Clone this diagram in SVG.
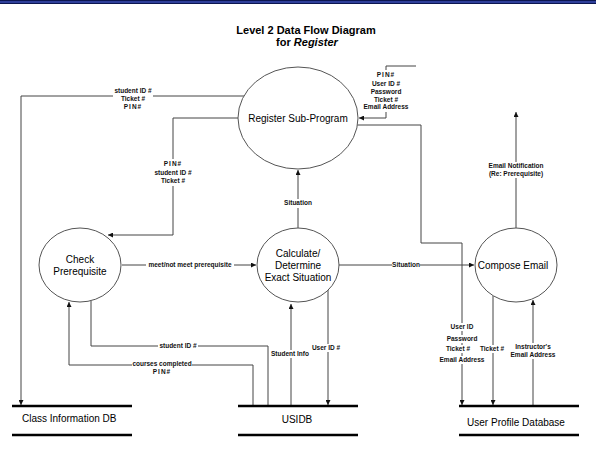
<svg xmlns="http://www.w3.org/2000/svg" width="596" height="452" viewBox="0 0 596 452">
<defs>
<style>
.node{fill:#fff;stroke:#555;stroke-width:1}
.nt{font-family:"Liberation Sans",Arial,sans-serif;font-size:10px;fill:#000;text-anchor:middle}
.st{font-family:"Liberation Sans",Arial,sans-serif;font-size:10px;fill:#000}
.store{stroke:#000;stroke-width:2.5}
.c{fill:none;stroke:#444;stroke-width:1}
.lb{font-family:"Liberation Sans",Arial,sans-serif;font-size:6.5px;font-weight:bold;fill:#111;text-anchor:middle}
.bg{fill:#fff}
.sp{letter-spacing:1px}
.title{font-family:"Liberation Sans",Arial,sans-serif;font-size:11px;font-weight:bold;fill:#000;text-anchor:middle}
</style>
<marker id="ah" viewBox="0 0 6 6" refX="6" refY="3" markerWidth="5" markerHeight="5" markerUnits="userSpaceOnUse" orient="auto">
<path d="M0,0 L6,3 L0,6 Z" fill="#111"/>
</marker>
</defs>
<rect x="0" y="0" width="596" height="452" fill="#fff"/>
<rect x="0" y="0" width="596" height="4" fill="#2e3f9a"/>
<line x1="0" y1="0.5" x2="596" y2="0.5" stroke="#0b1650" stroke-width="1"/>
<line x1="0" y1="3.5" x2="596" y2="3.5" stroke="#0b1650" stroke-width="1"/>
<text class="title" x="306" y="34">Level 2 Data Flow Diagram</text>
<text class="title" x="307" y="46">for <tspan font-style="italic">Register</tspan></text>

<g id="connectors">
<path class="c" d="M244,96 H21 V405" marker-end="url(#ah)"/>
<path class="c" d="M238,118 H173 V235 H108" marker-end="url(#ah)"/>
<path class="c" d="M298,228 V170" marker-end="url(#ah)"/>
<path class="c" d="M122,265 H256" marker-end="url(#ah)"/>
<path class="c" d="M338,265 H474" marker-end="url(#ah)"/>
<path class="c" d="M416,66 H386 V118 H359" marker-end="url(#ah)"/>
<path class="c" d="M357,125 H421 V243 H462 V405" marker-end="url(#ah)"/>
<path class="c" d="M493,296 V405" marker-end="url(#ah)"/>
<path class="c" d="M533,406 V300" marker-end="url(#ah)"/>
<path class="c" d="M516,228 V112" marker-end="url(#ah)"/>
<path class="c" d="M91,301 V346 H268 V406"/>
<path class="c" d="M253,406 V365 H69 V302" marker-end="url(#ah)"/>
<path class="c" d="M291,406 V304" marker-end="url(#ah)"/>
<path class="c" d="M328,290 V405" marker-end="url(#ah)"/>

<rect class="bg" x="113" y="86" width="40" height="25"/>
<text class="lb" x="133" y="93">student ID #</text>
<text class="lb" x="133" y="101">Ticket #</text>
<text class="lb sp" x="133" y="109">PIN#</text>

<rect class="bg" x="153" y="159" width="40" height="27"/>
<text class="lb sp" x="173" y="166">PIN#</text>
<text class="lb" x="173" y="175">student ID #</text>
<text class="lb" x="173" y="183">Ticket #</text>

<rect class="bg" x="284" y="199" width="28" height="9"/>
<text class="lb" x="298" y="205">Situation</text>

<rect class="bg" x="146" y="261" width="88" height="8"/>
<text class="lb" x="190" y="267">meet/not meet prerequisite</text>

<rect class="bg" x="392" y="261" width="28" height="8"/>
<text class="lb" x="406" y="267">Situation</text>

<rect class="bg" x="362" y="70" width="48" height="42"/>
<text class="lb sp" x="386" y="77">PIN#</text>
<text class="lb" x="386" y="86">User ID #</text>
<text class="lb" x="386" y="94">Password</text>
<text class="lb" x="386" y="102">Ticket #</text>
<text class="lb" x="386" y="109">Email Address</text>

<rect class="bg" x="450" y="323" width="24" height="8"/>
<text class="lb" x="462" y="329">User ID</text>
<rect class="bg" x="447" y="335" width="30" height="8"/>
<text class="lb" x="462" y="341">Password</text>
<rect class="bg" x="445" y="345" width="27" height="8"/>
<text class="lb" x="458" y="351">Ticket #</text>
<rect class="bg" x="439" y="356" width="46" height="8"/>
<text class="lb" x="462" y="362">Email Address</text>

<rect class="bg" x="480" y="345" width="25" height="8"/>
<text class="lb" x="492" y="351">Ticket #</text>

<rect class="bg" x="510" y="343" width="46" height="16"/>
<text class="lb" x="533" y="349">Instructor's</text>
<text class="lb" x="533" y="357">Email Address</text>

<rect class="bg" x="489" y="162" width="54" height="16"/>
<text class="lb" x="516" y="168">Email Notification</text>
<text class="lb" x="516" y="176">(Re: Prerequisite)</text>

<rect class="bg" x="158" y="342" width="40" height="8"/>
<text class="lb" x="178" y="348">student ID #</text>

<rect class="bg" x="132" y="360" width="60" height="16"/>
<text class="lb" x="162" y="366">courses completed</text>
<text class="lb sp" x="162" y="374">PIN#</text>

<rect class="bg" x="271" y="350" width="39" height="8"/>
<text class="lb" x="290" y="356">Student Info</text>

<rect class="bg" x="312" y="344" width="29" height="8"/>
<text class="lb" x="326" y="350">User ID #</text>
</g>

<g id="register">
<ellipse class="node" cx="298" cy="118" rx="60" ry="51"/>
<text class="nt" x="298" y="122">Register Sub-Program</text>
</g>
<g id="check">
<ellipse class="node" cx="80" cy="265" rx="41" ry="37"/>
<text class="nt" x="80" y="262.5">Check</text>
<text class="nt" x="80" y="274.5">Prerequisite</text>
</g>
<g id="calculate">
<ellipse class="node" cx="298" cy="265" rx="41" ry="37"/>
<text class="nt" x="298" y="256.5">Calculate/</text>
<text class="nt" x="298" y="268.5">Determine</text>
<text class="nt" x="298" y="280.5">Exact Situation</text>
</g>
<g id="compose">
<ellipse class="node" cx="516" cy="265" rx="41" ry="37"/>
<text class="nt" x="513" y="268.5">Compose Email</text>
</g>
<g id="classdb">
<line class="store" x1="12" y1="406" x2="132" y2="406"/>
<line class="store" x1="12" y1="435" x2="132" y2="435"/>
<text class="st" x="22" y="421.5">Class Information DB</text>
</g>
<g id="usidb">
<line class="store" x1="238" y1="406" x2="358" y2="406"/>
<line class="store" x1="238" y1="435" x2="358" y2="435"/>
<text class="nt" x="297" y="422.5">USIDB</text>
</g>
<g id="userprofile">
<line class="store" x1="459" y1="406" x2="579" y2="406"/>
<line class="store" x1="459" y1="435" x2="579" y2="435"/>
<text class="nt" x="516" y="425.5">User Profile Database</text>
</g>
</svg>
